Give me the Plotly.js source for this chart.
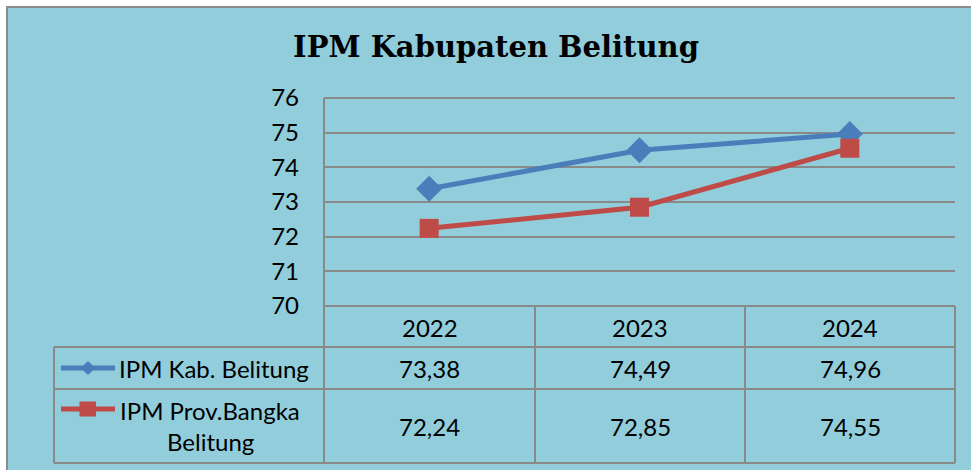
<!DOCTYPE html>
<html>
<head>
<meta charset="utf-8">
<script src="https://cdn.plot.ly/plotly-3.0.1.min.js"></script>
<style>html,body{margin:0;padding:0;background:#fff;}#chart{width:971px;height:470px;}</style>
</head>
<body>
<div id="chart"></div>
<script>
// ---- data ----
const chartTitle = "IPM Kabupaten Belitung";
const years = ["2022", "2023", "2024"];
const seriesNames = ["IPM Kab. Belitung", "IPM Prov.Bangka<br>Belitung"];
const ipmKab = [73.38, 74.49, 74.96];
const ipmProv = [72.24, 72.85, 74.55];
const yTicks = [70, 71, 72, 73, 74, 75, 76];

// ---- styling / geometry ----
const W = 971, H = 470;
const px = x => x / W;
const py = y => 1 - y / H;
const BLUE = "#4A7EBB", RED = "#BE4B48", GRID = "#898989";
const FONT = "Lato, 'Open Sans', sans-serif";
const FS = 24;
const fmt = v => v.toFixed(2).replace('.', ',');

const plotL = 324, plotR = 955, plotT = 98, plotB = 306;
const colEdges = [324, 535, 745, 955];
const rowEdges = [306, 347, 389, 463];
const tableL = 54;
const colCenters = [0,1,2].map(i => (colEdges[i] + colEdges[i+1]) / 2);

const traces = [
  {x: years, y: ipmKab, type: "scatter", mode: "lines+markers", name: seriesNames[0],
   line: {color: BLUE, width: 5}, marker: {symbol: "diamond", size: 20, color: BLUE},
   cliponaxis: false},
  {x: years, y: ipmProv, type: "scatter", mode: "lines+markers", name: seriesNames[1],
   line: {color: RED, width: 5}, marker: {symbol: "square", size: 19, color: RED},
   cliponaxis: false}
];

const shapes = [];
// chart area background
shapes.push({type: "rect", xref: "paper", yref: "paper", x0: px(7), x1: px(975), y0: py(475), y1: py(7),
  fillcolor: "#92CDDC", line: {color: "#8C8C8C", width: 2}, layer: "below"});
const line = (x0, y0, x1, y1) => shapes.push({type: "line", xref: "paper", yref: "paper",
  x0: px(x0), x1: px(x1), y0: py(y0), y1: py(y1), line: {color: GRID, width: 2}});
// plot border
line(plotL, plotT, plotR, plotT);
line(plotL, plotT, plotL, rowEdges[3]);
// table
line(plotL, rowEdges[0], plotR, rowEdges[0]);
for (let i = 1; i < rowEdges.length; i++) line(tableL, rowEdges[i], plotR, rowEdges[i]);
for (let i = 1; i < colEdges.length; i++) line(colEdges[i], rowEdges[0], colEdges[i], rowEdges[3]);
line(tableL, rowEdges[1], tableL, rowEdges[3]);

// legend keys in table
const keyY = [368, 409];
[BLUE, RED].forEach((c, i) => {
  shapes.push({type: "line", xref: "paper", yref: "paper", x0: px(61), x1: px(115), y0: py(keyY[i]), y1: py(keyY[i]),
    line: {color: c, width: 5}});
});
// diamond
shapes.push({type: "path", xref: "paper", yref: "paper",
  path: `M ${px(88)} ${py(361)} L ${px(95.5)} ${py(368)} L ${px(88)} ${py(375)} L ${px(80.5)} ${py(368)} Z`,
  fillcolor: BLUE, line: {width: 0}});
// square
shapes.push({type: "rect", xref: "paper", yref: "paper", x0: px(79.5), x1: px(96), y0: py(401.5), y1: py(416.5),
  fillcolor: RED, line: {width: 0}});

const annotations = [];
const txt = (x, y, t, size) => annotations.push({xref: "paper", yref: "paper", x: px(x), y: py(y),
  text: t, showarrow: false, xanchor: "center", yanchor: "middle",
  font: {family: FONT, size: size || FS, color: "#000"}});
years.forEach((yr, i) => txt(colCenters[i], 327, yr));
ipmKab.forEach((v, i) => txt(colCenters[i], 368, fmt(v)));
ipmProv.forEach((v, i) => txt(colCenters[i], 426, fmt(v)));
txt(214, 368, seriesNames[0]);
const n2 = seriesNames[1].split("<br>");
txt(210, 410, n2[0]);
txt(210, 441, n2[1]);

const layout = {
  width: W, height: H,
  margin: {l: 0, r: 0, t: 0, b: 0},
  paper_bgcolor: "#FFFFFF",
  plot_bgcolor: "#CCC0DA",
  showlegend: false,
  title: {text: "<b>" + chartTitle + "</b>", x: px(496), xanchor: "center", y: py(47), yanchor: "middle",
    font: {family: "'DejaVu Serif', serif", size: 29, color: "#000"}},
  xaxis: {domain: [px(plotL), px(plotR)], type: "category", range: [-0.5, 2.5],
    showticklabels: false, showgrid: false, zeroline: false, showline: false, ticks: ""},
  yaxis: {domain: [py(plotB), py(plotT)], range: [70, 76], tickvals: yTicks,
    ticktext: yTicks.map(String), showgrid: true, gridcolor: GRID, gridwidth: 2,
    zeroline: false, showline: false, ticks: "", ticklabelstandoff: 24,
    tickfont: {family: FONT, size: FS, color: "#000"}},
  shapes: shapes,
  annotations: annotations
};

Plotly.newPlot("chart", traces, layout, {displayModeBar: false, staticPlot: true});
</script>
</body>
</html>
